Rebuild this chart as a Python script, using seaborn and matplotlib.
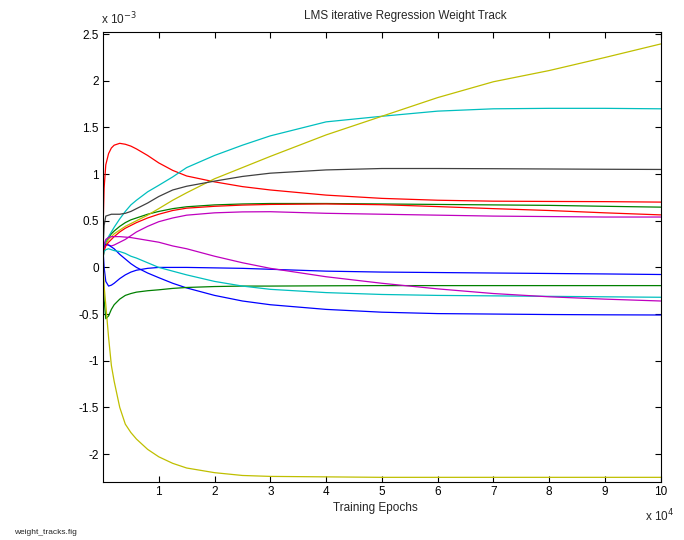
import numpy as np
import pandas as pd
import matplotlib
matplotlib.use("Agg")
import matplotlib.pyplot as plt
from matplotlib.ticker import FixedLocator, FuncFormatter
import seaborn as sns

# sample epochs at which the weight values were read
epochs = [0, 200, 500, 1000, 1500, 2000, 3000, 4000, 5000, 6000, 8000, 10000,
          12500, 15000, 20000, 25000, 30000, 40000, 50000, 60000, 70000, 80000,
          90000, 100000]

# weight tracks (units of 1e-3)
red_peak = [0.40, 0.85, 1.10, 1.22, 1.28, 1.31, 1.33, 1.32, 1.30, 1.27, 1.20, 1.12,
            1.04, 0.98, 0.917, 0.866, 0.83, 0.775, 0.74, 0.72, 0.71, 0.707, 0.705, 0.70]
red_rise = [0.10, 0.18, 0.23, 0.27, 0.30, 0.33, 0.38, 0.42, 0.45, 0.48, 0.53, 0.57,
            0.61, 0.635, 0.655, 0.668, 0.675, 0.68, 0.672, 0.652, 0.63, 0.61, 0.585, 0.563]
green_up = [0.10, 0.20, 0.27, 0.32, 0.36, 0.39, 0.44, 0.48, 0.51, 0.53, 0.57, 0.60,
            0.63, 0.65, 0.67, 0.68, 0.685, 0.685, 0.68, 0.675, 0.67, 0.665, 0.655, 0.646]
green_low = [0.00, -0.35, -0.55, -0.52, -0.45, -0.40, -0.34, -0.30, -0.28, -0.265, -0.25, -0.24,
             -0.225, -0.215, -0.205, -0.20, -0.20, -0.197, -0.195, -0.195, -0.195, -0.195, -0.195, -0.195]
blue_dip = [0.20, 0.00, -0.15, -0.20, -0.19, -0.17, -0.12, -0.08, -0.05, -0.03, -0.01, 0.00,
            0.00, 0.00, -0.005, -0.01, -0.02, -0.04, -0.05, -0.055, -0.06, -0.065, -0.07, -0.076]
blue_low = [0.15, 0.22, 0.25, 0.24, 0.22, 0.20, 0.14, 0.09, 0.04, 0.00, -0.06, -0.11,
            -0.17, -0.22, -0.30, -0.36, -0.40, -0.45, -0.48, -0.495, -0.50, -0.505, -0.508, -0.51]
cyan_up = [0.15, 0.22, 0.28, 0.33, 0.38, 0.43, 0.52, 0.60, 0.67, 0.72, 0.81, 0.88,
           0.97, 1.07, 1.20, 1.31, 1.41, 1.56, 1.62, 1.675, 1.70, 1.705, 1.705, 1.70]
cyan_low = [0.10, 0.17, 0.19, 0.20, 0.19, 0.18, 0.17, 0.15, 0.12, 0.10, 0.05, 0.00,
            -0.04, -0.08, -0.15, -0.20, -0.235, -0.27, -0.29, -0.30, -0.305, -0.31, -0.315, -0.32]
magenta_up = [0.15, 0.20, 0.24, 0.24, 0.23, 0.24, 0.27, 0.30, 0.34, 0.38, 0.44, 0.49,
              0.53, 0.56, 0.585, 0.595, 0.597, 0.58, 0.57, 0.56, 0.55, 0.545, 0.54, 0.54]
magenta_low = [0.15, 0.25, 0.30, 0.32, 0.33, 0.33, 0.33, 0.325, 0.32, 0.31, 0.29, 0.27,
               0.23, 0.20, 0.12, 0.05, -0.01, -0.10, -0.17, -0.23, -0.28, -0.315, -0.34, -0.36]
yellow_up = [0.15, 0.20, 0.25, 0.30, 0.33, 0.36, 0.40, 0.44, 0.47, 0.50, 0.56, 0.63,
             0.72, 0.80, 0.95, 1.07, 1.19, 1.42, 1.62, 1.82, 1.99, 2.11, 2.25, 2.395]
yellow_low = [0.10, -0.20, -0.40, -0.75, -1.05, -1.22, -1.50, -1.68, -1.77, -1.84, -1.95, -2.03,
              -2.10, -2.15, -2.20, -2.23, -2.24, -2.245, -2.25, -2.25, -2.25, -2.25, -2.25, -2.25]
black = [0.20, 0.45, 0.55, 0.56, 0.57, 0.57, 0.57, 0.58, 0.60, 0.63, 0.69, 0.76,
         0.83, 0.87, 0.925, 0.975, 1.01, 1.045, 1.06, 1.06, 1.058, 1.055, 1.052, 1.05]

tracks = {
    "w1": blue_dip, "w2": green_up, "w3": red_peak, "w4": cyan_up, "w5": magenta_up,
    "w6": yellow_up, "w7": black, "w8": blue_low, "w9": green_low, "w10": red_rise,
    "w11": cyan_low, "w12": magenta_low, "w13": yellow_low,
}
colors = {
    "w1": (0, 0, 1), "w2": (0, 0.5, 0), "w3": (1, 0, 0), "w4": (0, 0.75, 0.75),
    "w5": (0.75, 0, 0.75), "w6": (0.75, 0.75, 0), "w7": (0.25, 0.25, 0.25),
    "w8": (0, 0, 1), "w9": (0, 0.5, 0), "w10": (1, 0, 0), "w11": (0, 0.75, 0.75),
    "w12": (0.75, 0, 0.75), "w13": (0.75, 0.75, 0),
}

rows = []
for name, vals in tracks.items():
    for e, v in zip(epochs, vals):
        rows.append({"epoch": e, "weight": v, "track": name})
df = pd.DataFrame(rows)

sns.set_style("ticks")
plt.rcParams["font.family"] = ["Liberation Sans", "DejaVu Sans"]

fig = plt.figure(figsize=(6.84, 5.40), dpi=100)
ax = fig.add_axes([103 / 684, 1 - 482 / 540, (660.7 - 103) / 684, (482 - 32.3) / 540])

sns.lineplot(data=df, x="epoch", y="weight", hue="track", palette=colors,
             estimator=None, sort=False, legend=False, linewidth=0.9, ax=ax)

ax.set_xlim(0, 100000)
ax.set_ylim(-2.3, 2.52)
ax.xaxis.set_major_locator(FixedLocator(np.arange(10000, 100001, 10000)))
ax.xaxis.set_major_formatter(FuncFormatter(lambda v, p: f"{v / 10000:g}"))
ax.yaxis.set_major_locator(FixedLocator(np.arange(-2, 2.51, 0.5)))
ax.yaxis.set_major_formatter(FuncFormatter(lambda v, p: f"{v:g}"))
ax.tick_params(direction="in", length=4, width=0.8, top=True, right=True,
               labelsize=8.5, colors="black", pad=3)
for s in ax.spines.values():
    s.set_visible(True)
    s.set_linewidth(0.8)
    s.set_color("black")

ax.set_xlabel("")
ax.set_ylabel("")
fig.text(405 / 684, 1 - 16 / 540, "LMS iterative Regression Weight Track",
         fontsize=8.5, ha="center", va="center")
fig.text(375 / 684, 1 - 508 / 540, "Training Epochs", fontsize=8.5,
         ha="center", va="center")

fig.text(101 / 684, 1 - 19 / 540, r"x 10$^{-3}$", fontsize=8.5, ha="left", va="center")
fig.text(645 / 684, 1 - 516 / 540, r"x 10$^{4}$", fontsize=8.5, ha="left", va="center")
fig.text(14 / 684, 1 - 532 / 540, "weight_tracks.fig", fontsize=6, ha="left", va="center")

fig.savefig("out.png", dpi=100, facecolor="white")
